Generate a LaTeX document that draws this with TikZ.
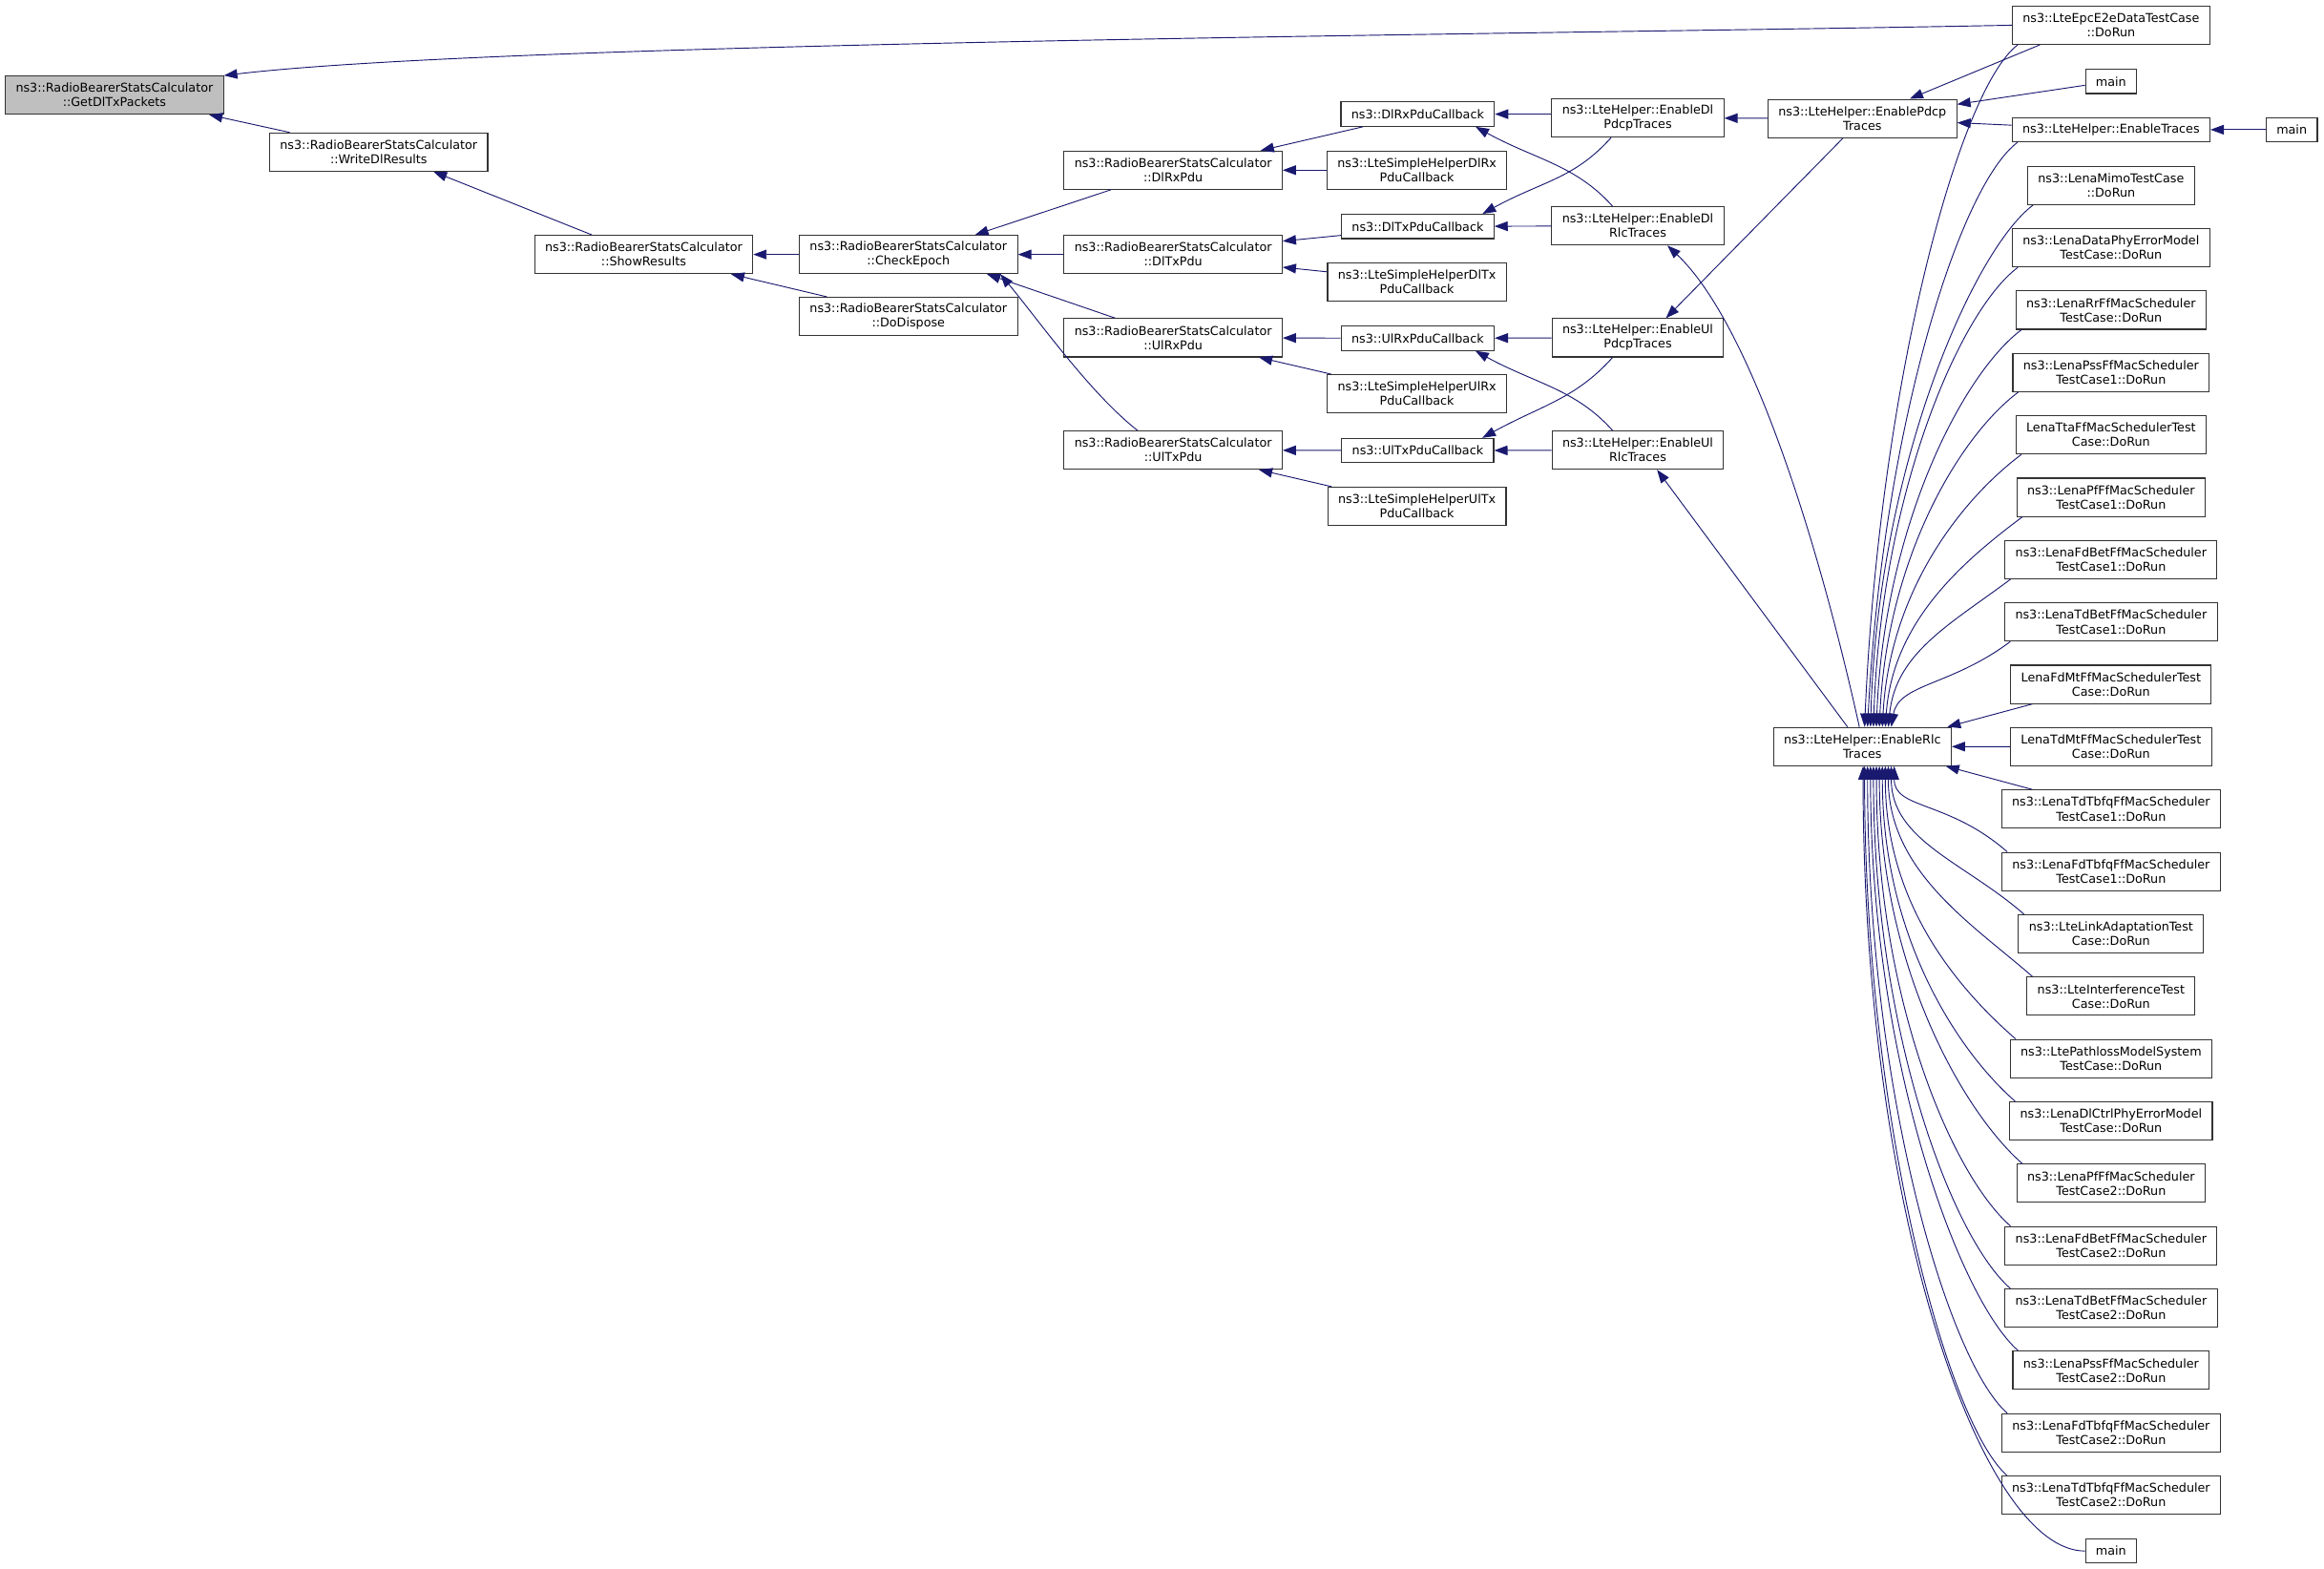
\documentclass[tikz,border=0pt]{standalone}
\usepackage{fontspec}
\setmainfont{DejaVu Sans}
\usetikzlibrary{arrows.meta}
\definecolor{edgeblue}{RGB}{25,25,112}

\begin{document}
\begin{tikzpicture}[x=1pt,y=-1pt,
	box/.style={draw=black!80, line width=0.7pt, align=center, inner xsep=7pt, inner ysep=0pt, minimum height=25.8pt, font=\fontsize{8.2}{9.7}\selectfont},
	one/.style={box, minimum height=16.4pt},
	edge/.style={draw=edgeblue, line width=0.6pt, -{Triangle[length=9pt,width=6.5pt]}}]
	\useasboundingbox (0,0) rectangle (1568,1058.6);
	\node[box, fill=black!25] (get) at (77.2,64.2) {ns3::RadioBearerStatsCalculator\\::GetDlTxPackets};
	\node[box] (write) at (255.5,102.6) {ns3::RadioBearerStatsCalculator\\::WriteDlResults};
	\node[box] (show) at (434.3,171.7) {ns3::RadioBearerStatsCalculator\\::ShowResults};
	\node[box] (check) at (612.9,171.7) {ns3::RadioBearerStatsCalculator\\::CheckEpoch};
	\node[box] (dispose) at (612.9,213.5) {ns3::RadioBearerStatsCalculator\\::DoDispose};
	\node[box] (dlrx) at (791.5,114.8) {ns3::RadioBearerStatsCalculator\\::DlRxPdu};
	\node[box] (dltx) at (791.5,171.7) {ns3::RadioBearerStatsCalculator\\::DlTxPdu};
	\node[box] (ulrx) at (791.5,227.9) {ns3::RadioBearerStatsCalculator\\::UlRxPdu};
	\node[box] (ultx) at (791.5,303.7) {ns3::RadioBearerStatsCalculator\\::UlTxPdu};
	\node[one] (dlrxcb) at (956.5,77) {ns3::DlRxPduCallback};
	\node[box] (shdlrx) at (956,114.8) {ns3::LteSimpleHelperDlRx\\PduCallback};
	\node[one] (dltxcb) at (956.5,152.8) {ns3::DlTxPduCallback};
	\node[box] (shdltx) at (956,190.4) {ns3::LteSimpleHelperDlTx\\PduCallback};
	\node[one] (ulrxcb) at (956.5,228.2) {ns3::UlRxPduCallback};
	\node[box] (shulrx) at (956,265.7) {ns3::LteSimpleHelperUlRx\\PduCallback};
	\node[one] (ultxcb) at (956.5,304) {ns3::UlTxPduCallback};
	\node[box] (shultx) at (956,341.6) {ns3::LteSimpleHelperUlTx\\PduCallback};
	\node[box] (endlpdcp) at (1105,79.6) {ns3::LteHelper::EnableDl\\PdcpTraces};
	\node[box] (endlrlc) at (1105,152.4) {ns3::LteHelper::EnableDl\\RlcTraces};
	\node[box] (enulpdcp) at (1105,227.9) {ns3::LteHelper::EnableUl\\PdcpTraces};
	\node[box] (enulrlc) at (1105,303.7) {ns3::LteHelper::EnableUl\\RlcTraces};
	\node[box] (enpdcp) at (1256.5,79.9) {ns3::LteHelper::EnablePdcp\\Traces};
	\node[box] (enrlc) at (1256.5,503.7) {ns3::LteHelper::EnableRlc\\Traces};
	\node[box] (e2e) at (1424.3,17) {ns3::LteEpcE2eDataTestCase\\::DoRun};
	\node[one] (main1) at (1424.3,54.9) {main};
	\node[one] (entraces) at (1424.3,87.5) {ns3::LteHelper::EnableTraces};
	\node[one] (main2) at (1546.2,87.5) {main};
	\foreach \k/\lbl in {0/{ns3::LenaMimoTestCase\\::DoRun}, 1/{ns3::LenaDataPhyErrorModel\\TestCase::DoRun},
		2/{ns3::LenaRrFfMacScheduler\\TestCase::DoRun}, 3/{ns3::LenaPssFfMacScheduler\\TestCase1::DoRun},
		4/{LenaTtaFfMacSchedulerTest\\Case::DoRun}, 5/{ns3::LenaPfFfMacScheduler\\TestCase1::DoRun},
		6/{ns3::LenaFdBetFfMacScheduler\\TestCase1::DoRun}, 7/{ns3::LenaTdBetFfMacScheduler\\TestCase1::DoRun},
		8/{LenaFdMtFfMacSchedulerTest\\Case::DoRun}, 9/{LenaTdMtFfMacSchedulerTest\\Case::DoRun},
		10/{ns3::LenaTdTbfqFfMacScheduler\\TestCase1::DoRun}, 11/{ns3::LenaFdTbfqFfMacScheduler\\TestCase1::DoRun},
		12/{ns3::LteLinkAdaptationTest\\Case::DoRun}, 13/{ns3::LteInterferenceTest\\Case::DoRun},
		14/{ns3::LtePathlossModelSystem\\TestCase::DoRun}, 15/{ns3::LenaDlCtrlPhyErrorModel\\TestCase::DoRun},
		16/{ns3::LenaPfFfMacScheduler\\TestCase2::DoRun}, 17/{ns3::LenaFdBetFfMacScheduler\\TestCase2::DoRun},
		18/{ns3::LenaTdBetFfMacScheduler\\TestCase2::DoRun}, 19/{ns3::LenaPssFfMacScheduler\\TestCase2::DoRun},
		20/{ns3::LenaFdTbfqFfMacScheduler\\TestCase2::DoRun}, 21/{ns3::LenaTdTbfqFfMacScheduler\\TestCase2::DoRun}}
		\node[box] (r\k) at (1424.3,125.1+42.08*\k) {\lbl};
	\node[one] (main3) at (1424.3,1046.5) {main};

	\draw[edge] (e2e.west) .. controls +(-300,6) and +(193,-23) .. (get.north east);
	\draw[edge] ([xshift=-60pt]write.north) -- ([xshift=-10pt]get.south east);
	\draw[edge] ([xshift=-35pt]show.north) -- ([xshift=37pt]write.south);
	\draw[edge] (check) -- (show);
	\draw[edge] ([xshift=-55pt]dispose.north) -- ([xshift=-15pt]show.south east);
	\draw[edge] ([xshift=-42pt]dlrx.south) -- ([xshift=45pt]check.north);
	\draw[edge] (dltx) -- (check);
	\draw[edge] ([xshift=-39pt]ulrx.north) -- ([xshift=53pt]check.south);
	\draw[edge] ([xshift=-24pt]ultx.north) .. controls +(-32,-25) and +(25,30) .. ([xshift=62pt]check.south);
	\draw[edge] ([xshift=-37pt]dlrxcb.south) -- ([xshift=59pt]dlrx.north);
	\draw[edge] (shdlrx) -- (dlrx);
	\draw[edge] ([yshift=-6pt]dltxcb.west) -- ([yshift=9pt]dltx.east);
	\draw[edge] ([yshift=7pt]shdltx.west) -- ([yshift=-8.6pt]dltx.east);
	\draw[edge] (ulrxcb) -- (ulrx);
	\draw[edge] ([xshift=3pt]shulrx.north west) -- ([xshift=-16pt]ulrx.south east);
	\draw[edge] (ultxcb) -- (ultx);
	\draw[edge] ([xshift=3pt]shultx.north west) -- ([xshift=-16pt]ultx.south east);
	\draw[edge] (endlpdcp.west |- dlrxcb.east) -- (dlrxcb.east);
	\draw[edge] ([xshift=-17pt]endlrlc.north) .. controls +(-25,-28) and +(40,22) .. ([xshift=-13pt]dlrxcb.south east);
	\draw[edge] ([xshift=-18pt]endlpdcp.south) .. controls +(-25,28) and +(40,-22) .. ([xshift=-8pt]dltxcb.north east);
	\draw[edge] (endlrlc) -- (dltxcb);
	\draw[edge] (enulpdcp) -- (ulrxcb);
	\draw[edge] ([xshift=-17pt]enulrlc.north) .. controls +(-25,-28) and +(40,22) .. ([xshift=-13pt]ulrxcb.south east);
	\draw[edge] ([xshift=-17pt]enulpdcp.south) .. controls +(-25,28) and +(40,-22) .. ([xshift=-8pt]ultxcb.north east);
	\draw[edge] (enulrlc) -- (ultxcb);
	\draw[edge] (enpdcp) -- (endlpdcp);
	\draw[edge] ([xshift=-13pt]enpdcp.south) -- ([xshift=19pt]enulpdcp.north);
	\draw[edge] ([xshift=-2pt]enrlc.north) .. controls +(-29,-131) and +(55,52) .. ([xshift=20pt]endlrlc.south);
	\draw[edge] ([xshift=-10pt]enrlc.north) -- ([xshift=13pt]enulrlc.south);
	\draw[edge] ([xshift=-48pt]e2e.south) -- ([xshift=32pt]enpdcp.north);
	\draw[edge] (main1) -- (enpdcp);
	\draw[edge] (entraces) -- (enpdcp);
	\draw[edge] (main2) -- (entraces);
	\draw[edge] ([xshift=4pt]e2e.south west) .. controls +(-40,30) and +(10,-230) .. ([xshift=1.5pt]enrlc.north);
	\draw[edge] ([xshift=4pt]entraces.south west) .. controls +(-40,30) and +(10,-198) .. ([xshift=3.5pt]enrlc.north);
	\foreach \k in {0,...,7}{
		\pgfmathsetmacro\h{0.5*(352.9-42.08*\k)}
		\pgfmathsetmacro\o{5.5+2*\k}
		\draw[edge] ([xshift=4pt]r\k.south west) .. controls +(-40,30) and +(5,-\h) .. ([xshift=\o pt]enrlc.north);
	}
	\draw[edge] ([xshift=15pt]r8.south west) -- ([xshift=-3pt]enrlc.north east);
	\draw[edge] (r9) -- (enrlc);
	\draw[edge] ([xshift=21pt]r10.north west) -- ([xshift=-4pt]enrlc.south east);
	\foreach \k in {11,...,21}{
		\pgfmathsetmacro\h{0.5*(42.08*\k-404.4)}
		\pgfmathsetmacro\o{21.5-2*(\k-11)}
		\draw[edge] ([xshift=4pt]r\k.north west) .. controls +(-40,-35) and +(0,\h) .. ([xshift=\o pt]enrlc.south);
	}
	\draw[edge] (main3.west) .. controls +(-70,0) and +(0,300) .. ([xshift=0.5pt]enrlc.south);
\end{tikzpicture}
\end{document}
